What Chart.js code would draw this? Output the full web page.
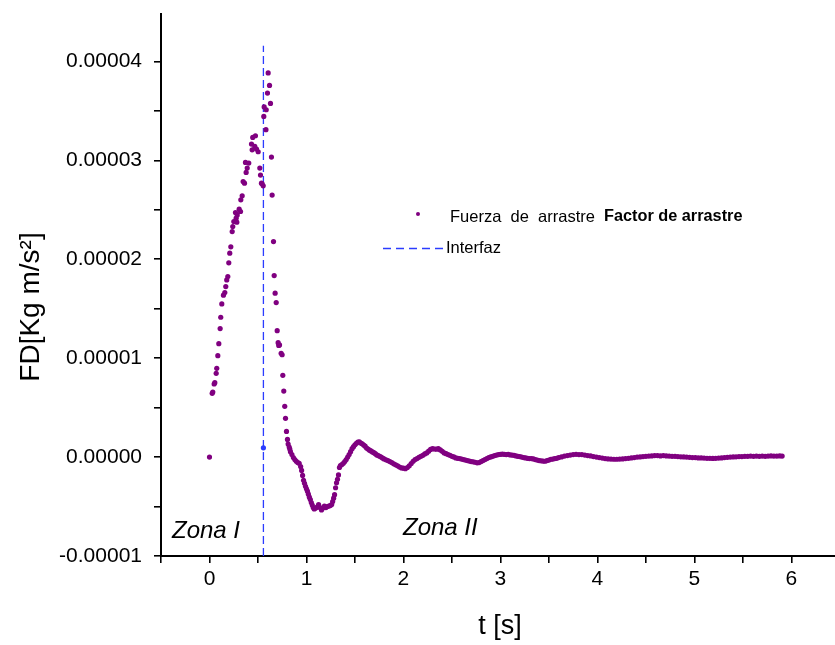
<!DOCTYPE html>
<html>
<head>
<meta charset="utf-8">
<script src="https://cdn.jsdelivr.net/npm/chart.js@4/dist/chart.umd.min.js"></script>
<style>
  html, body { margin: 0; padding: 0; background: #ffffff; }
  #grafico { display: block; }
</style>
</head>
<body>
<canvas id="grafico" width="835" height="645"></canvas>
<script>
// Fuerza de arrastre FD (en micronewtons, 1e-6 Kg m/s^2) frente al tiempo t [s]
// Zona I: ascenso hasta la interfaz
const tZonaI = [
  0.000, 0.028, 0.034, 0.048, 0.055, 0.069, 0.075, 0.086, 0.096, 0.110,
  0.116, 0.127, 0.144, 0.158, 0.168, 0.178, 0.189, 0.199, 0.209, 0.220,
  0.234, 0.240, 0.251, 0.268, 0.275, 0.286, 0.282, 0.306, 0.320, 0.323,
  0.337, 0.347, 0.361, 0.371, 0.378, 0.389, 0.405, 0.433, 0.440, 0.446,
  0.467, 0.474, 0.485, 0.502, 0.519, 0.526, 0.536, 0.543, 0.554
];
const fdZonaI = [
  0.00, 6.45, 6.58, 7.39, 7.52, 8.47, 8.98, 10.25, 11.47, 12.99,
  14.14, 15.49, 16.37, 16.63, 17.24, 17.91, 18.25, 19.64, 20.62, 21.26,
  22.80, 23.31, 23.82, 24.73, 24.16, 24.49, 23.75, 25.07, 24.83, 26.01,
  26.42, 27.86, 27.70, 29.79, 28.78, 29.22, 29.73, 31.65, 31.07, 32.32,
  31.41, 32.49, 31.14, 30.87, 29.22, 28.51, 27.70, 27.63, 27.43
];

// Zona II: pico, caída y oscilación amortiguada
const tZonaII = [
  0.560, 0.564, 0.582, 0.585, 0.598, 0.605, 0.619, 0.629, 0.639, 0.646,
  0.660, 0.667, 0.677, 0.688, 0.698, 0.708, 0.714, 0.722, 0.739, 0.749,
  0.756, 0.766, 0.776, 0.784, 0.794, 0.804, 0.811, 0.822, 0.828,
  0.835, 0.850, 0.865, 0.880, 0.895, 0.910, 0.925, 0.940, 0.950, 0.960,
  0.970, 0.980, 0.990, 1.000, 1.010, 1.020, 1.030, 1.040, 1.050, 1.060,
  1.070, 1.080, 1.095, 1.110, 1.125, 1.140, 1.155, 1.170, 1.185, 1.200,
  1.215, 1.230, 1.245, 1.260, 1.270, 1.280, 1.290, 1.300, 1.310, 1.320,
  1.330, 1.340, 1.350, 1.365, 1.380, 1.395, 1.410, 1.425, 1.440, 1.455,
  1.470, 1.485, 1.500, 1.515, 1.530, 1.545, 1.560, 1.575, 1.590, 1.605,
  1.620, 1.635, 1.650, 1.665, 1.680, 1.695, 1.710, 1.725, 1.740, 1.755,
  1.770, 1.785, 1.800, 1.820, 1.840, 1.860, 1.880, 1.900, 1.920, 1.940,
  1.960, 1.980, 2.000, 2.020, 2.040, 2.060, 2.080, 2.100, 2.120, 2.140,
  2.160, 2.180, 2.200, 2.220, 2.240, 2.260, 2.280, 2.300, 2.320, 2.340,
  2.360, 2.380, 2.400, 2.420, 2.440, 2.460, 2.480, 2.500, 2.520, 2.540,
  2.560, 2.580, 2.600, 2.620, 2.640, 2.660, 2.680, 2.700, 2.720, 2.740,
  2.760, 2.780, 2.800, 2.820, 2.840, 2.860, 2.880, 2.900, 2.920, 2.940,
  2.960, 2.980, 3.000, 3.020, 3.040, 3.060, 3.080, 3.100, 3.120, 3.140,
  3.160, 3.180, 3.200, 3.220, 3.240, 3.260, 3.280, 3.300, 3.320, 3.340,
  3.360, 3.380, 3.400, 3.420, 3.440, 3.460, 3.480, 3.500, 3.520, 3.540,
  3.560, 3.580, 3.600, 3.630, 3.660, 3.690, 3.720, 3.750, 3.780, 3.810,
  3.840, 3.870, 3.900, 3.930, 3.960, 3.990, 4.020, 4.050, 4.080, 4.110,
  4.140, 4.170, 4.200, 4.230, 4.260, 4.290, 4.320, 4.350, 4.380, 4.410,
  4.440, 4.470, 4.500, 4.530, 4.560, 4.590, 4.620, 4.650, 4.680, 4.710,
  4.740, 4.770, 4.800, 4.830, 4.860, 4.890, 4.920, 4.950, 4.980, 5.010,
  5.040, 5.070, 5.100, 5.130, 5.160, 5.190, 5.220, 5.250, 5.280, 5.310,
  5.340, 5.370, 5.400, 5.430, 5.460, 5.490, 5.520, 5.550, 5.580, 5.610,
  5.640, 5.670, 5.700, 5.730, 5.760, 5.790, 5.820, 5.850, 5.880, 5.905
];
const fdZonaII = [
  34.44, 35.40, 33.10, 35.12, 36.81, 38.84, 37.58, 35.76, 30.33, 26.49,
  21.79, 18.35, 16.57, 15.62, 12.78, 11.57, 11.29, 11.34, 10.50, 10.35,
  8.27, 6.68, 5.13, 3.92, 2.60, 1.79, 1.32, 1.01, 0.81,
  0.55, 0.25, -0.05, -0.25, -0.42, -0.55, -0.62, -0.95, -1.35, -1.85,
  -2.35, -2.65, -2.95, -3.20, -3.45, -3.75, -4.05, -4.30, -4.60, -4.85,
  -5.10, -5.25, -5.15, -5.05, -4.80, -5.10, -5.35, -5.15, -4.95, -5.10,
  -5.00, -4.95, -4.90, -4.80, -4.50, -4.15, -3.80, -3.10, -2.60, -2.25,
  -1.80, -1.05, -0.85, -0.75, -0.62, -0.45, -0.25, 0.00, 0.25, 0.55,
  0.85, 1.05, 1.25, 1.40, 1.52, 1.55, 1.42, 1.35, 1.22, 1.10,
  0.92, 0.82, 0.70, 0.62, 0.52, 0.45, 0.35, 0.22, 0.15, 0.08,
  0.00, -0.10, -0.18, -0.28, -0.35, -0.45, -0.55, -0.68, -0.78, -0.88,
  -1.00, -1.10, -1.12, -1.18, -1.05, -0.88, -0.65, -0.42, -0.25, -0.15,
  -0.02, 0.08, 0.18, 0.32, 0.42, 0.60, 0.78, 0.85, 0.82, 0.80,
  0.85, 0.72, 0.58, 0.42, 0.35, 0.25, 0.18, 0.08, 0.02, -0.08,
  -0.12, -0.15, -0.20, -0.25, -0.30, -0.35, -0.40, -0.45, -0.48, -0.52,
  -0.58, -0.55, -0.45, -0.35, -0.25, -0.15, -0.05, 0.02, 0.08, 0.15,
  0.20, 0.25, 0.28, 0.30, 0.28, 0.25, 0.28, 0.22, 0.20, 0.18,
  0.12, 0.08, 0.05, 0.00, -0.05, -0.08, -0.12, -0.15, -0.15, -0.18,
  -0.25, -0.30, -0.35, -0.38, -0.40, -0.42, -0.35, -0.30, -0.22, -0.20,
  -0.15, -0.12, -0.05, 0.02, 0.10, 0.15, 0.20, 0.25, 0.28, 0.25,
  0.25, 0.20, 0.15, 0.12, 0.05, 0.00, -0.05, -0.10, -0.15, -0.18,
  -0.20, -0.22, -0.22, -0.20, -0.18, -0.15, -0.12, -0.08, -0.05, 0.00,
  0.02, 0.05, 0.08, 0.10, 0.12, 0.15, 0.15, 0.12, 0.15, 0.12,
  0.10, 0.08, 0.08, 0.05, 0.03, 0.02, 0.00, -0.02, -0.05, -0.05,
  -0.08, -0.08, -0.10, -0.12, -0.12, -0.13, -0.12, -0.10, -0.08, -0.05,
  -0.02, 0.00, 0.02, 0.03, 0.05, 0.05, 0.08, 0.08, 0.10, 0.08,
  0.10, 0.08, 0.10, 0.08, 0.10, 0.12, 0.10, 0.10, 0.12, 0.10
];

// Interfaz entre zonas: tiempo y extremos de la línea vertical (µN), con su marca
const tInterfaz = 0.556;
const fdInterfaz = [-10.0, 0.94, 41.6];

// Marcas de los ejes (las de valor entero llevan etiqueta)
const marcasT = [-0.5, 0, 0.5, 1, 1.5, 2, 2.5, 3, 3.5, 4, 4.5, 5, 5.5, 6];
const etiquetasT = ['', '0', '', '1', '', '2', '', '3', '', '4', '', '5', '', '6'];
const marcasFD = [-1e-5, -0.5e-5, 0, 0.5e-5, 1e-5, 1.5e-5, 2e-5, 2.5e-5, 3e-5, 3.5e-5, 4e-5];
const etiquetasFD = ['-0.00001', '', '0.00000', '', '0.00001', '', '0.00002', '', '0.00003', '', '0.00004'];
const rangoT = [-0.5, 6.45];
const rangoFD = [-1e-5, 4.48e-5];

const MICRO = 1e-6;
const MORADO = '#800080';
const AZUL = '#2b3cff';
const FUENTE = '"Liberation Sans", Arial, Helvetica, sans-serif';

const puntosFuerza = tZonaI.map((t, i) => ({ x: t, y: fdZonaI[i] * MICRO }))
  .concat(tZonaII.map((t, i) => ({ x: t, y: fdZonaII[i] * MICRO })));
const puntosInterfaz = fdInterfaz.map(v => ({ x: tInterfaz, y: v * MICRO }));

// Textos, leyenda y títulos de ejes
const anotaciones = {
  id: 'anotaciones',
  afterDraw(chart) {
    const ctx = chart.ctx;
    ctx.save();
    ctx.fillStyle = '#000';
    ctx.textBaseline = 'middle';

    // Títulos de ejes
    ctx.font = '27px ' + FUENTE;
    ctx.textAlign = 'center';
    ctx.fillText('t [s]', 500, 627);
    ctx.save();
    ctx.translate(31, 307);
    ctx.rotate(-Math.PI / 2);
    ctx.font = '28px ' + FUENTE;
    ctx.fillText('FD[Kg m/s²]', 0, 0);
    ctx.restore();

    // Zonas
    ctx.textAlign = 'left';
    ctx.font = 'italic 24px ' + FUENTE;
    ctx.fillText('Zona I', 172, 531);
    ctx.fillText('Zona II', 403, 528);

    // Leyenda
    ctx.fillStyle = MORADO;
    ctx.beginPath();
    ctx.arc(418, 214, 2, 0, Math.PI * 2);
    ctx.fill();
    ctx.fillStyle = '#000';
    ctx.font = '16.5px ' + FUENTE;
    ctx.fillText('Fuerza  de  arrastre', 450, 217);
    ctx.font = 'bold 16.3px ' + FUENTE;
    ctx.fillText('Factor de arrastre', 604, 217);
    ctx.font = '16.5px ' + FUENTE;
    ctx.fillText('Interfaz', 446, 248);

    ctx.strokeStyle = AZUL;
    ctx.lineWidth = 1.3;
    ctx.setLineDash([8, 5]);
    ctx.beginPath();
    ctx.moveTo(383, 248.5);
    ctx.lineTo(443, 248.5);
    ctx.stroke();
    ctx.restore();
  }
};

const fijarMarcas = (valores) => (s) => {
  s.ticks = valores.map(v => ({ value: v }));
};

new Chart(document.getElementById('grafico'), {
  type: 'scatter',
  data: {
    datasets: [
      {
        label: 'Fuerza  de  arrastre Factor de arrastre',
        data: puntosFuerza,
        showLine: false,
        pointRadius: 2.6,
        pointBorderWidth: 0,
        pointBackgroundColor: MORADO,
        backgroundColor: MORADO
      },
      {
        label: 'Interfaz',
        type: 'line',
        data: puntosInterfaz,
        borderColor: AZUL,
        borderWidth: 1.3,
        borderDash: [8, 4],
        pointRadius: [0, 2.6, 0],
        pointBorderWidth: 0,
        pointBackgroundColor: AZUL,
        fill: false,
        tension: 0
      }
    ]
  },
  options: {
    responsive: false,
    animation: false,
    events: [],
    layout: { autoPadding: false, padding: { top: 14, right: 0, left: 0, bottom: 0 } },
    plugins: { legend: { display: false }, tooltip: { enabled: false } },
    scales: {
      x: {
        type: 'linear',
        min: rangoT[0],
        max: rangoT[1],
        afterFit: s => { s.height = 89; s.paddingLeft = 0; s.paddingRight = 0; },
        afterBuildTicks: fijarMarcas(marcasT),
        border: { display: true, color: '#000', width: 2 },
        grid: { drawOnChartArea: false, drawTicks: true, tickLength: 7, color: '#000', lineWidth: 1.6 },
        ticks: {
          autoSkip: false,
          maxRotation: 0,
          padding: 4,
          color: '#000',
          font: { family: FUENTE, size: 21 },
          callback: (v, i) => etiquetasT[i]
        }
      },
      y: {
        type: 'linear',
        min: rangoFD[0],
        max: rangoFD[1],
        afterFit: s => { s.width = 161; s.paddingTop = 0; s.paddingBottom = 0; },
        afterBuildTicks: fijarMarcas(marcasFD),
        border: { display: true, color: '#000', width: 2 },
        grid: { drawOnChartArea: false, drawTicks: true, tickLength: 7, color: '#000', lineWidth: 1.6 },
        ticks: {
          autoSkip: false,
          padding: 12,
          color: '#000',
          font: { family: FUENTE, size: 21 },
          callback: (v, i) => etiquetasFD[i]
        }
      }
    }
  },
  plugins: [anotaciones]
});
</script>
</body>
</html>
